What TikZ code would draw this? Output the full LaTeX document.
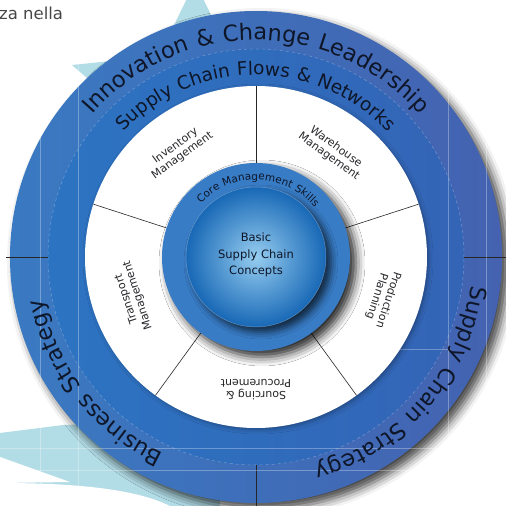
\documentclass[tikz,border=0pt]{standalone}
\usepackage{fontspec}
\setmainfont{DejaVu Sans}
\newfontfamily\ringfont{DejaVu Sans}[LetterSpace=5]
\definecolor{outerL}{RGB}{58, 122, 194}
\definecolor{outerR}{RGB}{68, 98, 176}
\definecolor{flowL}{RGB}{44, 116, 194}
\definecolor{flowR}{RGB}{52, 100, 182}
\definecolor{coreblue}{RGB}{56, 124, 198}
\definecolor{basiclight}{RGB}{150, 205, 240}
\definecolor{basicdark}{RGB}{24, 104, 182}
\definecolor{starblue}{RGB}{178, 220, 230}
\definecolor{ringink}{RGB}{14, 22, 40}
\definecolor{labelgray}{RGB}{40, 40, 44}
\definecolor{pagegray}{RGB}{70, 70, 70}
\usetikzlibrary{shadows.blur, decorations.text}

\begin{document}
\begin{tikzpicture}[x=1pt, y=1pt,
  seclabel/.style={font=\fontsize{11}{12}\selectfont, text=labelgray, align=center, inner sep=0pt},
  divline/.style={black!85, line width=0.6pt},
  guideline/.style={white, opacity=0.3, line width=0.5pt},
  ringtext/.style={decorate, decoration={text along path, text align=center, text color=ringink, text={#1}}}]
  \useasboundingbox (-256,-249) rectangle (250,257);
  \clip (-256,-249) rectangle (250,257);

  % Page behind
  \node[anchor=base west, font=\fontsize{16.5}{16.5}\selectfont, text=pagegray, inner sep=0pt] (page) at (-257,237) {za nella};
  \fill[starblue] (-61,275) -- (-22,195) -- (-100,195) -- cycle;
  \fill[starblue] (-184,192) -- (-116,199) -- (-126,142) -- cycle;
  \fill[starblue] (-256,-176) -- (-193,-168) -- (-36,-163) -- (-36,-249) -- (-256,-249) -- cycle;
  \fill[white] (-256,-200) -- (-186,-225) -- (-256,-226) -- cycle;
  \fill[white] (-256,-226) .. controls (-180,-226) and (-120,-232) .. (-86,-249) -- (-256,-249) -- cycle;

  % Outer rings
  \shade[left color=outerL, right color=outerR, blur shadow={shadow xshift=6pt, shadow yshift=-6pt, shadow blur radius=9pt, shadow opacity=75}] (0,0) circle (246);
  \shade[left color=flowL, right color=flowR] (0,0) circle (208);
  \draw[guideline, dashed] (0,0) circle (208);
  \foreach \a in {180,0,-90}
    \draw[divline] (\a:208) -- (\a:250);

  % Guides
  \draw[guideline] (-216,-249) -- (-216,257);
  \draw[guideline] (-178,-249) -- (-178,257);
  \draw[guideline] (192,-249) -- (192,257);
  \draw[guideline] (230,-249) -- (230,257);
  \draw[guideline] (-256,-191) -- (250,-191);
  \draw[guideline] (-256,-213) -- (250,-213);
  \draw[guideline] (-80,-92) -- (195,-92);

  % Functions ring
  \fill[white, blur shadow={shadow xshift=2pt, shadow yshift=-2pt, shadow blur radius=4pt, shadow opacity=30}] (0,0) circle (171);
  \foreach \a in {90,18,-54,-126,162}
    \draw[divline] (\a:94) -- (\a:171);

  % Core
  \fill[coreblue, blur shadow={shadow xshift=6pt, shadow yshift=-6pt, shadow blur radius=9pt, shadow opacity=85}] (0,0) circle (94);
  \shade[inner color=basiclight, outer color=basicdark, blur shadow={shadow xshift=5pt, shadow yshift=-5pt, shadow blur radius=7pt, shadow opacity=70}] (0,0) circle (70);
  \draw[guideline] (0,0) circle (70);

  % Ring labels
  \path[ringtext={|\ringfont\fontsize{22.5}{22.5}\selectfont|Innovation {\&} Change Leadership}] (175:217) arc[start angle=175, end angle=5, radius=217];
  \path[ringtext={|\ringfont\fontsize{18.5}{18.5}\selectfont|Supply Chain Flows {\&} Networks}] (175:182) arc[start angle=175, end angle=5, radius=182];
  \path[ringtext={|\ringfont\fontsize{22.5}{22.5}\selectfont|Supply Chain Strategy}] (19:217) arc[start angle=19, end angle=-101, radius=217];
  \path[ringtext={|\ringfont\fontsize{22.5}{22.5}\selectfont|Business Strategy}] (278:217) arc[start angle=278, end angle=158, radius=217];
  \path[ringtext={|\ringfont\fontsize{10.5}{10.5}\selectfont|Core Management Skills}] (178:77) arc[start angle=178, end angle=-2, radius=77];

  % Function labels
  \node[seclabel, rotate=36] (inv) at (126:131) {Inventory\\Management};
  \node[seclabel, rotate=-36] (ware) at (54:130) {Warehouse\\Management};
  \node[seclabel, rotate=-108] (prod) at (-18:133) {Production\\Planning};
  \node[seclabel, rotate=180] (sourc) at (-90:133) {Sourcing \&\\Procurement};
  \node[seclabel, rotate=108] (trans) at (198:130) {Transport\\Management};

  % Centre
  \node[font=\fontsize{11.5}{16.5}\selectfont, text=ringink, align=center] (basic) at (0,2) {Basic\\Supply Chain\\Concepts};
\end{tikzpicture}
\end{document}
